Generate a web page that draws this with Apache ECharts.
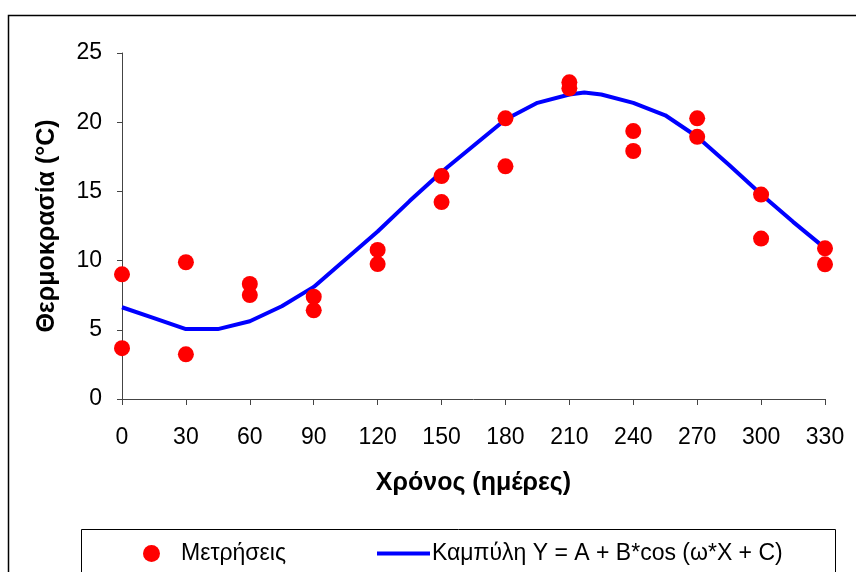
<!DOCTYPE html>
<html>
<head>
<meta charset="utf-8">
<script src="https://cdn.jsdelivr.net/npm/echarts@6/dist/echarts.min.js"></script>
<style>
html,body{margin:0;padding:0;background:#fff;}
#chart{width:856px;height:572px;}
</style>
</head>
<body>
<div id="chart"></div>
<script>
// Measurements (day, temperature)
var measDays = [0,0,30,30,60,60,90,90,120,120,150,150,180,180,210,210,240,240,270,270,300,300,330,330];
var measTemps = [9.01,3.67,9.88,3.23,8.31,7.51,7.39,6.41,10.77,9.75,16.11,14.23,20.28,16.81,22.88,22.45,19.36,17.92,20.28,18.94,14.77,11.59,10.89,9.73];

// Fitted curve
var curveDays = [0,15,30,45,60,75,90,105,120,135,150,165,180,195,210,217,225,240,255,270,285,300,315,330];
var curveTemps = [6.63,5.85,5.05,5.05,5.62,6.7,8.1,10.1,12.1,14.3,16.4,18.3,20.2,21.4,22.0,22.15,22.0,21.4,20.5,18.95,16.9,14.8,12.8,10.9];

var xTicks = [0,30,60,90,120,150,180,210,240,270,300,330];
var yTicks = [0,5,10,15,20,25];

var nameMeas = 'Μετρήσεις';
var nameCurve = 'Καμπύλη Y = A + B*cos (ω*X + C)';

var font = '"Liberation Sans", Arial, sans-serif';

var chart = echarts.init(document.getElementById('chart'), null, {renderer:'canvas'});
var option = {
  animation:false,
  backgroundColor:'#fff',
  grid:{left:122, right:31, top:53, bottom:173, containLabel:false},
  xAxis:{
    type:'value', min:xTicks[0], max:xTicks[xTicks.length-1], interval:30,
    name:'Χρόνος (ημέρες)', nameLocation:'middle', nameGap:72,
    nameTextStyle:{fontFamily:font, fontSize:25, fontWeight:'bold', color:'#000'},
    axisLine:{show:true, onZero:false, lineStyle:{color:'#444', width:1}},
    axisTick:{show:true, length:6, lineStyle:{color:'#444'}},
    axisLabel:{fontFamily:font, fontSize:23, color:'#000', margin:27},
    splitLine:{show:false}
  },
  yAxis:{
    type:'value', min:yTicks[0], max:yTicks[yTicks.length-1], interval:5,
    name:'Θερμοκρασία (°C)', nameLocation:'middle', nameGap:62, nameRotate:90,
    nameTextStyle:{fontFamily:font, fontSize:25, fontWeight:'bold', color:'#000'},
    axisLine:{show:true, lineStyle:{color:'#444', width:1}},
    axisTick:{show:true, length:5, lineStyle:{color:'#444'}},
    axisLabel:{fontFamily:font, fontSize:23, color:'#000', margin:20},
    splitLine:{show:false}
  },
  legend:[
    {data:[nameMeas], left:138, top:537, icon:'circle', itemWidth:17, itemHeight:17, itemGap:0,
     textStyle:{fontFamily:font, fontSize:23, color:'#000', padding:[0,0,0,16]}},
    {data:[nameCurve], left:372, top:537, icon:'rect', itemWidth:53, itemHeight:4, itemGap:0,
     textStyle:{fontFamily:font, fontSize:23, color:'#000', padding:[0,0,0,-3]}}
  ],
  graphic:[
    {type:'rect', left:6, top:13, shape:{width:849, height:570}, style:{fill:'none', stroke:'#000', lineWidth:1.5}, z:-1},
    {type:'rect', left:79, top:527, shape:{width:754, height:60}, style:{fill:'none', stroke:'#000', lineWidth:1}, z:-1}
  ],
  series:[
    {name:nameCurve, type:'line', data:curveDays.map(function(d,i){return [d, curveTemps[i]];}),
     showSymbol:false, symbol:'none', smooth:false, lineStyle:{color:'#0000FF', width:4}, itemStyle:{color:'#0000FF'}, z:2},
    {name:nameMeas, type:'scatter', data:measDays.map(function(d,i){return [d, measTemps[i]];}),
     symbol:'circle', symbolSize:16, itemStyle:{color:'#FF0000', opacity:1}, z:3}
  ]
};
chart.setOption(option);
</script>
</body>
</html>
